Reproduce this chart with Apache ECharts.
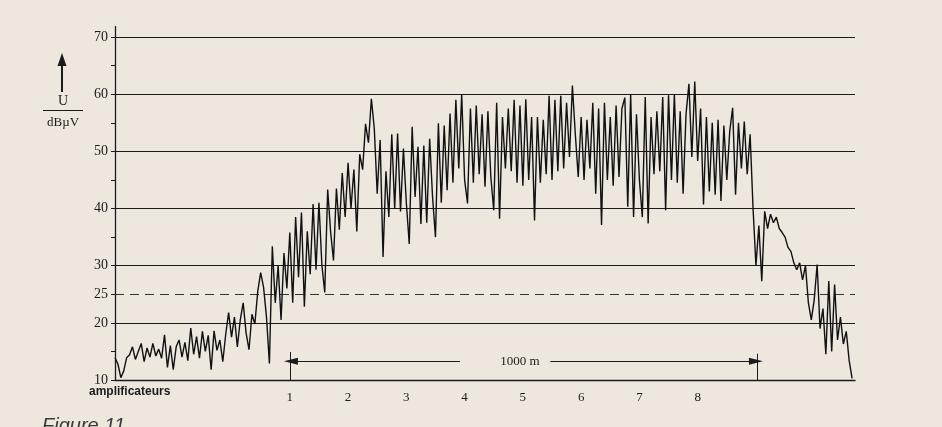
<!DOCTYPE html>
<html>
<head>
<meta charset="utf-8">
<script src="https://cdn.jsdelivr.net/npm/echarts@6/dist/echarts.min.js"></script>
<style>
  html, body { margin: 0; padding: 0; background: #ede7de; }
  #chart { width: 942px; height: 427px; }
</style>
</head>
<body>
<div id="chart"></div>
<script>
// level along the cable, every 0.05 amplifier spacing
const xStart = -2;
const xStep = 0.05;
const levelDb = [
  13.9, 12.8, 10.4, 11.6, 13.9, 14.4, 15.8, 13.6, 15.0, 16.4,
  13.2, 15.6, 14.0, 16.4, 14.2, 15.4, 13.8, 17.9, 12.2, 16.0,
  11.8, 15.8, 17.0, 14.0, 16.6, 13.4, 19.1, 14.5, 17.6, 13.8,
  18.5, 15.0, 17.8, 11.8, 18.6, 15.2, 17.0, 13.2, 18.0, 21.8,
  17.5, 21.0, 15.8, 20.5, 23.5, 18.2, 15.3, 21.5, 19.8, 25.5,
  28.8, 26.2, 21.0, 12.9, 33.4, 23.5, 30.0, 20.5, 32.2, 26.0,
  35.8, 23.5, 38.5, 28.0, 39.3, 22.8, 36.0, 28.5, 40.8, 29.3,
  41.0, 30.2, 25.3, 43.3, 36.0, 30.9, 43.5, 36.3, 46.2, 38.5,
  48.0, 40.0, 46.8, 36.0, 49.5, 46.8, 54.8, 51.5, 59.2, 54.0,
  42.6, 52.0, 31.5, 46.5, 38.5, 53.0, 40.0, 53.1, 39.5, 50.5,
  41.0, 33.8, 54.3, 42.0, 50.8, 37.3, 51.0, 37.5, 52.2, 42.0,
  35.0, 54.9, 41.0, 54.5, 43.2, 56.6, 44.5, 59.0, 47.0, 60.0,
  45.0, 40.9, 57.5, 44.5, 58.0, 46.0, 56.5, 43.8, 57.0, 45.5,
  39.7, 58.5, 38.2, 56.0, 47.0, 57.5, 46.5, 59.0, 44.5, 58.0,
  44.0, 59.1, 45.0, 56.0, 37.9, 56.0, 44.5, 55.5, 46.0, 59.7,
  45.0, 59.0, 46.5, 59.7, 47.0, 58.5, 49.0, 61.5, 53.0, 45.5,
  56.0, 45.0, 55.5, 47.0, 58.5, 42.6, 57.5, 37.1, 58.5, 45.0,
  56.0, 44.0, 58.0, 45.5, 57.5, 59.4, 40.3, 60.0, 38.5, 56.5,
  45.0, 38.5, 59.5, 37.4, 56.0, 46.0, 57.0, 46.5, 59.5, 39.7,
  59.8, 45.0, 60.0, 44.5, 57.0, 42.6, 56.5, 61.8, 49.0, 62.2,
  48.3, 57.5, 40.7, 56.0, 43.0, 55.0, 42.4, 55.5, 41.3, 54.5,
  45.0, 53.5, 57.6, 42.4, 55.0, 47.0, 55.2, 46.0, 53.0, 40.1,
  30.0, 37.0, 27.3, 39.5, 36.5, 39.0, 37.5, 38.5, 36.5, 35.8,
  35.0, 33.2, 32.5, 30.5, 29.3, 30.5, 27.5, 30.0, 23.5, 20.5,
  24.0, 30.2, 19.0, 22.5, 14.5, 27.3, 15.0, 26.7, 17.0, 21.0,
  16.3, 18.5, 13.4, 10.3
];
const amplifiers = [1, 2, 3, 4, 5, 6, 7, 8];
const gridLevels = [20, 30, 40, 50, 60, 70];
const thresholdLevel = 25;
const yLabels = [10, 20, 25, 30, 40, 50, 60, 70];
// 1000 m bracket: from amplifier 1 to the end of the span
const spanStart = 1;
const spanEnd = 9.02;
const spanLevel = 13.3;

const ink = "#1b1b1b";
const serif = "Liberation Serif";

const chart = echarts.init(document.getElementById("chart"));

const traceData = levelDb.map((v, i) => [xStart + i * xStep, v]);

const levelLines = gridLevels.map((v) => ({ yAxis: v }));
levelLines.push({
  yAxis: thresholdLevel,
  lineStyle: { type: [9, 6], color: "#333", width: 1 },
});

const option = {
  backgroundColor: "#ede7de",
  animation: false,
  grid: { left: 115, right: 87, top: 37, bottom: 47 },
  xAxis: {
    type: "value",
    min: -2,
    max: 10.7,
    interval: 1,
    axisLine: { show: true, onZero: false, lineStyle: { color: ink, width: 1.3 } },
    axisTick: { show: false },
    splitLine: { show: false },
    axisLabel: {
      margin: 11,
      fontFamily: serif,
      fontSize: 13,
      color: ink,
      formatter: (v) => (amplifiers.includes(v) ? String(v) : ""),
    },
  },
  yAxis: {
    type: "value",
    min: 10,
    max: 70,
    interval: 5,
    axisLine: { show: true, onZero: false, lineStyle: { color: ink, width: 1.3 } },
    axisTick: { show: true, length: 4, lineStyle: { color: ink } },
    splitLine: { show: false },
    axisLabel: {
      margin: 7,
      fontFamily: serif,
      fontSize: 14,
      color: ink,
      formatter: (v) => (yLabels.includes(v) ? String(v) : ""),
    },
  },
  series: [
    {
      type: "line",
      data: traceData,
      showSymbol: false,
      lineStyle: { color: "#111", width: 1.4 },
      z: 5,
      markLine: {
        silent: true,
        symbol: "none",
        animation: false,
        label: { show: false },
        lineStyle: { type: "solid", color: ink, width: 1 },
        data: levelLines.concat([
          [
            { coord: [spanStart, 10] },
            { coord: [spanStart, 14.9] },
          ],
          [
            { coord: [spanEnd, 10] },
            { coord: [spanEnd, 14.6] },
          ],
          [
            { coord: [spanStart, spanLevel], symbol: "none" },
            { coord: [3.92, spanLevel], symbol: "none" },
          ],
          [
            { coord: [spanStart + 0.02, spanLevel], symbol: "triangle", symbolSize: [7, 14], symbolRotate: 90 },
            { coord: [spanStart + 0.3, spanLevel], symbol: "none" },
          ],
          [
            { coord: [5.47, spanLevel], symbol: "none" },
            { coord: [spanEnd - 0.02, spanLevel], symbol: "none" },
          ],
          [
            { coord: [spanEnd - 0.3, spanLevel], symbol: "none" },
            { coord: [spanEnd - 0.02, spanLevel], symbol: "triangle", symbolSize: [7, 14], symbolRotate: -90 },
          ],
        ]),
      },
      markPoint: {
        silent: true,
        symbol: "circle",
        symbolSize: 1,
        itemStyle: { color: "rgba(0,0,0,0)" },
        label: {
          show: true,
          position: "inside",
          formatter: "1000 m",
          fontFamily: serif,
          fontSize: 13,
          color: ink,
        },
        data: [{ coord: [4.95, spanLevel] }],
      },
    },
  ],
  graphic: [
    // axis line continues a little above 70
    { type: "line", shape: { x1: 115.5, y1: 26, x2: 115.5, y2: 37 }, style: { stroke: ink, lineWidth: 1.3 } },
    // unit label with arrow on the left
    { type: "line", shape: { x1: 62, y1: 92, x2: 62, y2: 62 }, style: { stroke: ink, lineWidth: 2 } },
    { type: "polygon", shape: { points: [[57.5, 66], [62, 53], [66.5, 66]] }, style: { fill: ink } },
    {
      type: "text", x: 63, y: 101,
      style: { text: "U", font: "14px 'Liberation Serif'", fill: ink, align: "center", verticalAlign: "middle" },
    },
    { type: "line", shape: { x1: 43, y1: 110.5, x2: 83, y2: 110.5 }, style: { stroke: ink, lineWidth: 1 } },
    {
      type: "text", x: 63, y: 123,
      style: { text: "dBµV", font: "13px 'Liberation Serif'", fill: ink, align: "center", verticalAlign: "middle" },
    },
    {
      type: "text", x: 89, y: 392,
      style: { text: "amplificateurs", font: "bold 12px 'Liberation Sans'", fill: ink, verticalAlign: "middle" },
    },
    {
      type: "text", x: 42, y: 416,
      style: { text: "Figure 11", font: "italic 20px 'Liberation Sans'", fill: "#3a3a3a", verticalAlign: "top" },
    },
  ],
};

chart.setOption(option);
</script>
</body>
</html>
